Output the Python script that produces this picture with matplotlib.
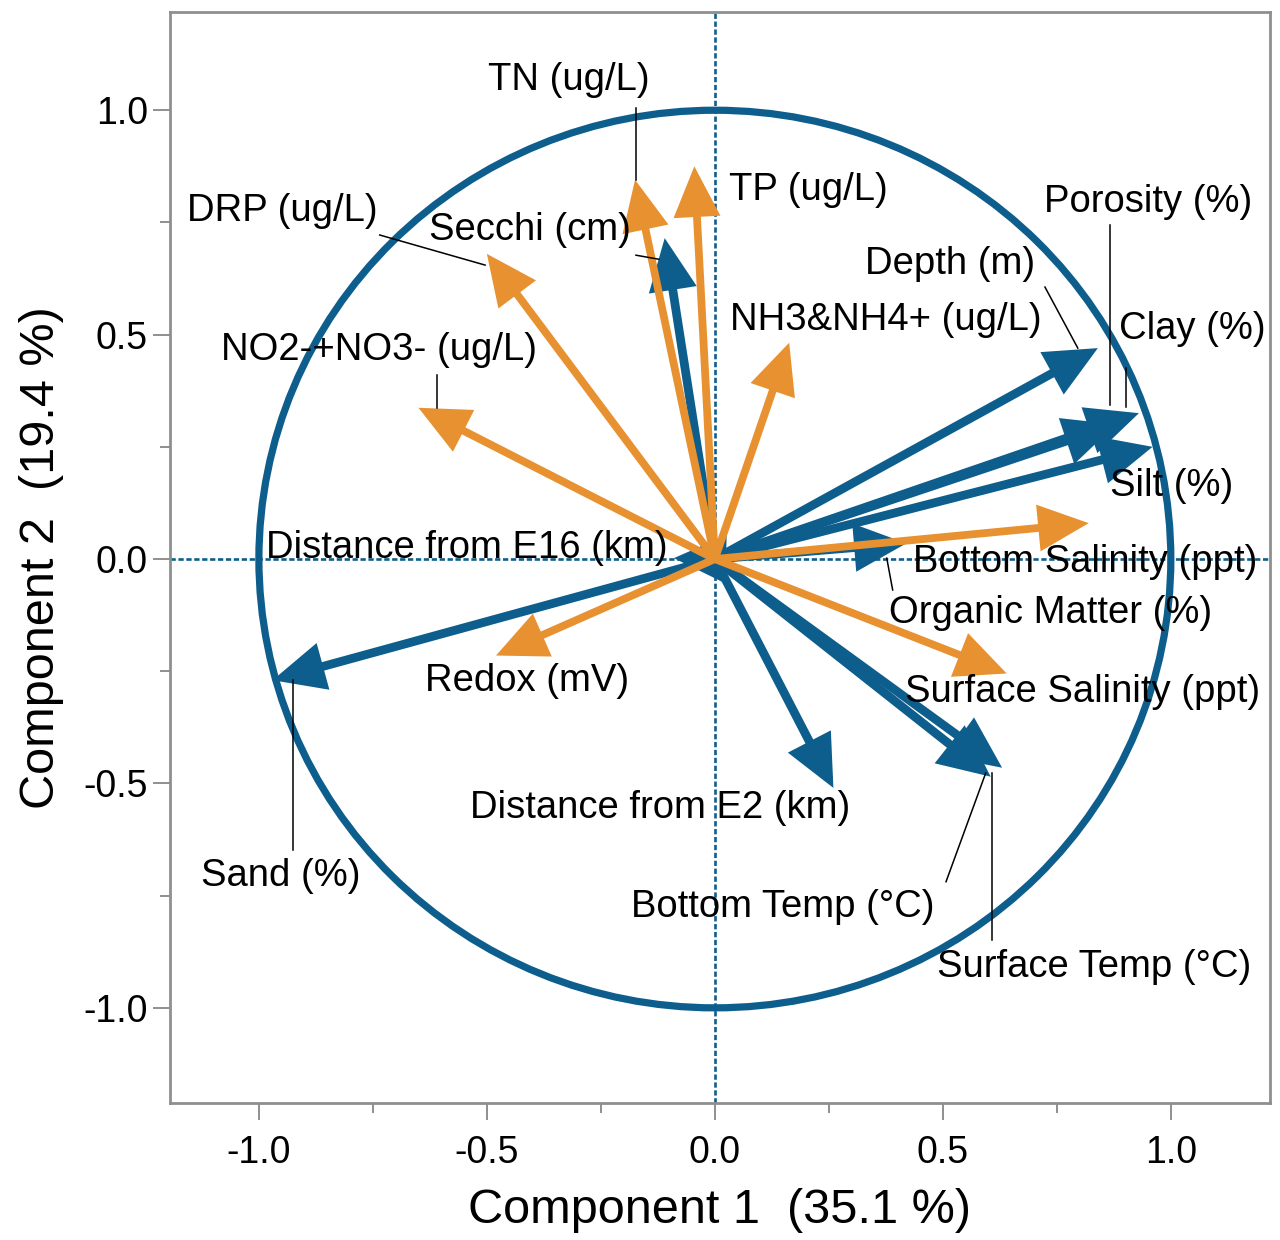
import matplotlib
matplotlib.use("Agg")
import matplotlib.pyplot as plt
from matplotlib.patches import FancyArrowPatch, ArrowStyle, Circle
from matplotlib.ticker import MultipleLocator, FormatStrFormatter

plt.rcParams['font.family'] = ['Liberation Sans', 'DejaVu Sans']

BLUE = "#0d5e8c"
ORANGE = "#e89130"

# ---- data: loadings (Component 1, Component 2) ----
blue_labels = ["Secchi (cm)", "Depth (m)", "Porosity (%)", "Clay (%)", "Silt (%)",
               "Organic Matter (%)", "Distance from E16 (km)", "Sand (%)",
               "Distance from E2 (km)", "Bottom Temp (°C)", "Surface Temp (°C)"]
blue_pc1 = [-0.11, 0.84, 0.88, 0.93, 0.96, 0.42, -0.09, -0.97, 0.26, 0.605, 0.63]
blue_pc2 = [0.715, 0.47, 0.30, 0.325, 0.25, 0.035, 0.002, -0.27, -0.51, -0.485, -0.465]

orange_labels = ["TN (ug/L)", "TP (ug/L)", "DRP (ug/L)", "NO2-+NO3- (ug/L)",
                 "NH3&NH4+ (ug/L)", "Bottom Salinity (ppt)", "Surface Salinity (ppt)",
                 "Redox (mV)"]
orange_pc1 = [-0.175, -0.045, -0.50, -0.65, 0.163, 0.82, 0.64, -0.48]
orange_pc2 = [0.845, 0.875, 0.68, 0.337, 0.482, 0.08, -0.255, -0.215]

x_title = "Component 1  (35.1 %)"
y_title = "Component 2  (19.4 %)"
tick_values = [-1.0, -0.5, 0.0, 0.5, 1.0]

# ---- layout: label anchor (left, vertical centre) and optional leader line ----
label_pos = {
    "TN (ug/L)": (-0.498, 1.067),
    "TP (ug/L)": (0.030, 0.822),
    "DRP (ug/L)": (-1.158, 0.775),
    "Secchi (cm)": (-0.627, 0.733),
    "NO2-+NO3- (ug/L)": (-1.083, 0.465),
    "NH3&NH4+ (ug/L)": (0.033, 0.532),
    "Depth (m)": (0.330, 0.657),
    "Porosity (%)": (0.722, 0.795),
    "Clay (%)": (0.886, 0.512),
    "Silt (%)": (0.867, 0.163),
    "Bottom Salinity (ppt)": (0.435, -0.007),
    "Organic Matter (%)": (0.382, -0.12),
    "Surface Salinity (ppt)": (0.418, -0.296),
    "Surface Temp (°C)": (0.487, -0.909),
    "Bottom Temp (°C)": (-0.185, -0.775),
    "Distance from E2 (km)": (-0.538, -0.555),
    "Redox (mV)": (-0.636, -0.272),
    "Sand (%)": (-1.128, -0.706),
    "Distance from E16 (km)": (-0.985, 0.024),
}
leaders = {
    "TN (ug/L)": ((-0.173, 1.005), (-0.173, 0.845)),
    "DRP (ug/L)": ((-0.735, 0.722), (-0.504, 0.655)),
    "Secchi (cm)": ((-0.173, 0.677), (-0.123, 0.668)),
    "NO2-+NO3- (ug/L)": ((-0.61, 0.41), (-0.61, 0.336)),
    "Depth (m)": ((0.724, 0.606), (0.796, 0.47)),
    "Porosity (%)": ((0.866, 0.744), (0.866, 0.343)),
    "Clay (%)": ((0.901, 0.425), (0.901, 0.338)),
    "Organic Matter (%)": ((0.377, 0.002), (0.39, -0.069)),
    "Surface Temp (°C)": ((0.607, -0.477), (0.607, -0.849)),
    "Bottom Temp (°C)": ((0.594, -0.477), (0.507, -0.719)),
    "Sand (%)": ((-0.925, -0.648), (-0.925, -0.27)),
}

fig = plt.figure(figsize=(12.8, 12.4), dpi=100)
ax = fig.add_axes([0.1328, 0.1105, 0.8592, 0.8795])
ax.set_xlim(-1.195, 1.217)
ax.set_ylim(-1.212, 1.218)

# reference lines
ax.axhline(0, color=BLUE, lw=1.9, ls=(0, (2.0, 1.0)), zorder=1)
ax.axvline(0, color=BLUE, lw=1.9, ls=(0, (2.0, 1.0)), zorder=1)

# unit circle
ax.add_patch(Circle((0, 0), 1.0, fill=False, ec=BLUE, lw=5.2, zorder=2))

def draw_arrow(x, y, color, lw):
    style = ArrowStyle('-|>', head_length=27, head_width=12.5)
    ax.add_patch(FancyArrowPatch((0, 0), (x, y), arrowstyle=style, mutation_scale=1,
                                 lw=lw, color=color, shrinkA=0, shrinkB=0,
                                 joinstyle='miter', capstyle='butt', zorder=3))

for x, y in zip(blue_pc1, blue_pc2):
    draw_arrow(x, y, BLUE, 6.3)
for x, y in zip(orange_pc1, orange_pc2):
    draw_arrow(x, y, ORANGE, 5.6)

# leader lines
for name, (p0, p1) in leaders.items():
    ax.plot([p0[0], p1[0]], [p0[1], p1[1]], color='black', lw=1.1, zorder=4)

# labels
for name in blue_labels + orange_labels:
    lx, ly = label_pos[name]
    ax.text(lx, ly, name, fontsize=27.5, ha='left', va='center', color='black', zorder=5)

# axes styling
for s in ax.spines.values():
    s.set_color('#8f8f8f')
    s.set_linewidth(2)

ax.xaxis.set_minor_locator(MultipleLocator(0.25))
ax.yaxis.set_minor_locator(MultipleLocator(0.25))
ax.set_xticks(tick_values)
ax.set_yticks(tick_values)
ax.xaxis.set_major_formatter(FormatStrFormatter('%.1f'))
ax.yaxis.set_major_formatter(FormatStrFormatter('%.1f'))
ax.tick_params(which='major', direction='out', length=12, width=1.4, color='#8f8f8f',
               labelsize=27, labelcolor='black')
ax.tick_params(axis='x', which='major', pad=11)
ax.tick_params(axis='y', which='major', pad=4)
ax.tick_params(which='minor', direction='out', length=7, width=1.4, color='#8f8f8f')

for loc, tick in zip(ax.get_xticks(), ax.xaxis.get_major_ticks()):
    if abs(loc) < 1e-9:
        tick.tick1line.set_color(BLUE)
for loc, tick in zip(ax.get_yticks(), ax.yaxis.get_major_ticks()):
    if abs(loc) < 1e-9:
        tick.tick1line.set_color(BLUE)

ax.set_xlabel(x_title, fontsize=35, labelpad=12)
ax.set_ylabel(y_title, fontsize=35, labelpad=14)

fig.savefig("out.png", dpi=100)
